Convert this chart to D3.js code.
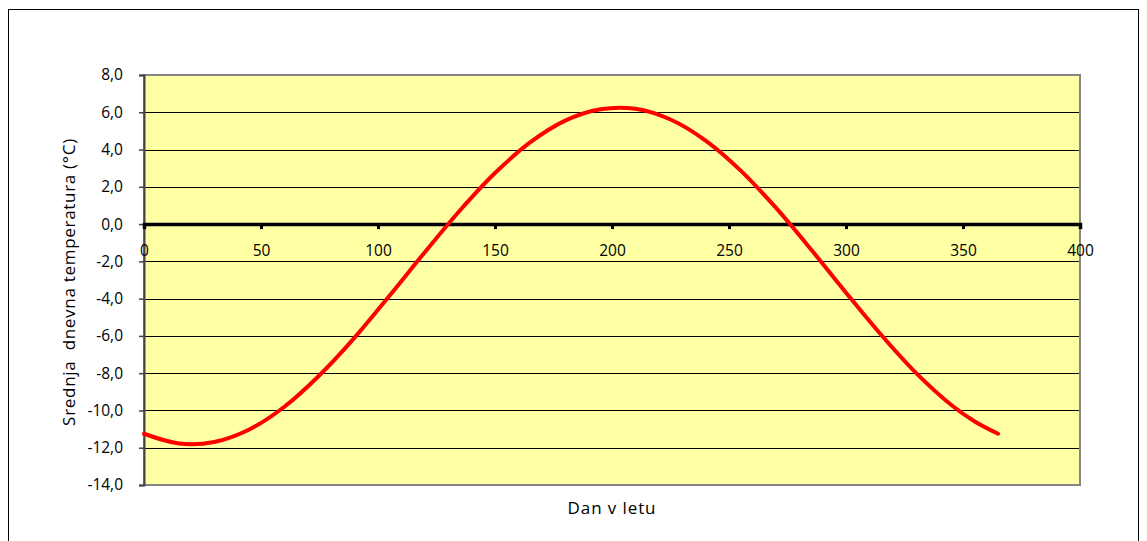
<!DOCTYPE html>
<html>
<head>
<meta charset="utf-8">
<script src="https://cdn.jsdelivr.net/npm/d3@7"></script>
<style>
  html, body { margin: 0; padding: 0; background: #fff; }
  svg { display: block; }
  text { font-family: "Open Sans", "Noto Sans", sans-serif; fill: #000; }
</style>
</head>
<body>
<div id="chart"></div>
<script>
// Data
const days = [0, 15, 30, 45, 60, 75, 90, 105, 120, 135, 150, 165, 180, 195, 210, 225, 240, 255, 270, 285, 300, 315, 330, 345, 355, 365];
const temps = [-11.25, -11.77, -11.69, -11.02, -9.80, -8.11, -6.09, -3.83, -1.51, 0.73, 2.74, 4.38, 5.55, 6.16, 6.19, 5.61, 4.48, 2.87, 0.88, -1.35, -3.68, -5.94, -8.00, -9.71, -10.59, -11.25];
const xTicks = [0, 50, 100, 150, 200, 250, 300, 350, 400];
const yTicks = [8, 6, 4, 2, 0, -2, -4, -6, -8, -10, -12, -14];
const xTitle = "Dan v letu";
const yTitle = "Srednja  dnevna temperatura (°C)";

const W = 1147, H = 541;
const plot = { left: 144, right: 1080, top: 75, bottom: 485 };

const svg = d3.select("#chart").append("svg").attr("width", W).attr("height", H);

// outer chart border
svg.append("rect").attr("x", 8.5).attr("y", 9.5).attr("width", 1130).attr("height", 535)
  .attr("fill", "#fff").attr("stroke", "#000").attr("stroke-width", 1);

const x = d3.scaleLinear().domain([0, 400]).range([plot.left, plot.right]);
const y = d3.scaleLinear().domain([-14, 8]).range([plot.bottom, plot.top]);

// plot area background
svg.append("rect").attr("x", plot.left).attr("y", plot.top)
  .attr("width", plot.right - plot.left).attr("height", plot.bottom - plot.top)
  .attr("fill", "#FFFFA3");

// horizontal gridlines
svg.append("g").selectAll("line").data(yTicks.filter(d => d !== 0 && d !== -14 && d !== 8)).join("line")
  .attr("x1", plot.left).attr("x2", plot.right)
  .attr("y1", d => Math.round(y(d)) + 0.5).attr("y2", d => Math.round(y(d)) + 0.5)
  .attr("stroke", "#000").attr("stroke-width", 1);

// plot border (gray)
svg.append("rect").attr("x", plot.left).attr("y", plot.top)
  .attr("width", plot.right - plot.left).attr("height", plot.bottom - plot.top)
  .attr("fill", "none").attr("stroke", "#858585").attr("stroke-width", 2);

// y axis
const yAxis = d3.axisLeft(y).tickValues(yTicks).tickSize(5).tickPadding(16)
  .tickFormat(d => d3.format(".1f")(d).replace(".", ",").replace("−", "-"));
const gy = svg.append("g").attr("transform", `translate(${plot.left},0)`).call(yAxis);
gy.select(".domain").attr("stroke", "#444").attr("stroke-width", 2);
gy.selectAll(".tick line").attr("stroke", "#444").attr("stroke-width", 1.5);
gy.selectAll(".tick text").attr("font-size", 15.5).attr("fill", "#000");

// x axis at y = 0
const xAxis = d3.axisBottom(x).tickValues(xTicks).tickSize(5).tickPadding(16).tickFormat(d3.format("d"));
const gx = svg.append("g").attr("transform", `translate(0,${y(0)})`).call(xAxis);
gx.select(".domain").attr("stroke", "#000").attr("stroke-width", 3.5);
gx.selectAll(".tick line").attr("stroke", "#000").attr("stroke-width", 3);
gx.selectAll(".tick text").attr("font-size", 15.5).attr("fill", "#000");

// curve
const line = d3.line().x((d, i) => x(days[i])).y((d, i) => y(temps[i])).curve(d3.curveCatmullRom);
svg.append("path").datum(temps).attr("d", line)
  .attr("fill", "none").attr("stroke", "#FF0000").attr("stroke-width", 4).attr("stroke-linecap", "round");

// titles
svg.append("text").attr("x", 612).attr("y", 514)
  .attr("text-anchor", "middle").attr("font-size", 17).attr("letter-spacing", 0.9).text(xTitle);
svg.append("text").attr("transform", `translate(68,${(plot.top + plot.bottom) / 2 + 2}) rotate(-90)`)
  .attr("text-anchor", "middle").attr("dominant-baseline", "central").attr("font-size", 17)
  .style("white-space", "pre").attr("letter-spacing", 0.7).text(yTitle);
</script>
</body>
</html>
